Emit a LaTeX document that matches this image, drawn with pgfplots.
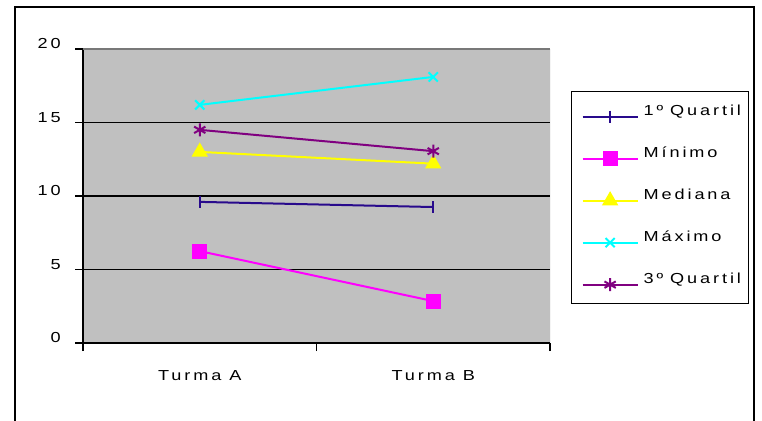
\documentclass[border=0pt]{standalone}
\usepackage{fontspec}
\setmainfont[LetterSpace=20,FakeStretch=1.25]{Liberation Sans}
\usepackage{pgfplots}
\pgfplotsset{compat=1.18}
\definecolor{qone}{RGB}{40,10,140}
\definecolor{qmin}{RGB}{255,0,255}
\definecolor{qmed}{RGB}{255,255,0}
\definecolor{qmax}{RGB}{0,255,255}
\definecolor{qthree}{RGB}{128,0,128}
\definecolor{bggray}{RGB}{192,192,192}
\definecolor{topgray}{RGB}{120,120,120}
\begin{document}
\fontsize{14.5bp}{17bp}\selectfont
\begin{tikzpicture}[x=1bp,y=1bp]
\path[use as bounding box] (0,0) rectangle (762,420);
\draw[line width=2bp] (15,-5) -- (15,413) -- (754,413) -- (754,-5);
\begin{axis}[at={(83bp,77bp)}, anchor=south west,
  scale only axis, width=467bp, height=294bp,
  xmin=-0.5, xmax=1.5, ymin=0, ymax=20,
  axis background/.style={fill=bggray},
  axis x line*=bottom, axis y line*=left,
  axis line style={black, line width=1.5bp, -},
  ytick={0,5,10,15,20}, ymajorgrids,
  grid style={black, line width=1.5bp},
  xtick={0,1}, xticklabels={Turma A, Turma B},
  major x tick style={draw=none},
  minor xtick={-0.5,0.5,1.5},
  tick align=outside, major tick length=8bp, minor tick length=8bp,
  tick style={black, line width=1.5bp},
  /pgf/number format/assume math mode=true,
  yticklabel style={inner sep=0pt, anchor=east, xshift=-14bp, yshift=5bp},
  xticklabel style={inner sep=0pt, anchor=north, yshift=-19bp},
  legend style={at={(1.045,0.857)}, anchor=north west, draw=black, line width=1.2bp,
    nodes={inner sep=0pt, text height=12bp, text depth=8bp},
    row sep=22bp, column sep=5bp, inner xsep=10bp, inner ysep=12bp},
  legend cell align=left,
  legend image code/.code={\draw[mark repeat=2, mark phase=2, #1] plot coordinates {(0bp,-3bp) (27.5bp,-3bp) (55bp,-3bp)};},
]
\addplot[qone, line width=2bp, mark=|, mark size=6bp, mark options={line width=2bp}] coordinates {(0,9.6) (1,9.25)};
\addlegendentry[text width=95bp]{\mbox{1º\hspace{7bp}Quartil}}
\addplot[qmin, line width=2bp, mark=square*, mark size=6.5bp, mark options={fill=qmin}] coordinates {(0,6.25) (1,2.85)};
\addlegendentry[text width=95bp]{\mbox{Mínimo}}
\addplot[qmed, line width=2bp, mark=triangle*, mark size=7.5bp, mark options={fill=qmed}] coordinates {(0,13.0) (1,12.2)};
\addlegendentry[text width=95bp]{\mbox{Mediana}}
\addplot[qmax, line width=2bp, mark=x, mark size=6.5bp] coordinates {(0,16.2) (1,18.1)};
\addlegendentry[text width=95bp]{\mbox{Máximo}}
\addplot[qthree, line width=2bp, mark=asterisk, mark size=6.5bp] coordinates {(0,14.5) (1,13.05)};
\addlegendentry[text width=95bp]{\mbox{3º\hspace{7bp}Quartil}}
\draw[topgray, line width=2bp] (rel axis cs:0,1) -- (rel axis cs:1,1);
\draw[gray!70, line width=0.8bp] (rel axis cs:1,0) -- (rel axis cs:1,1);
\end{axis}
\end{tikzpicture}
\end{document}
